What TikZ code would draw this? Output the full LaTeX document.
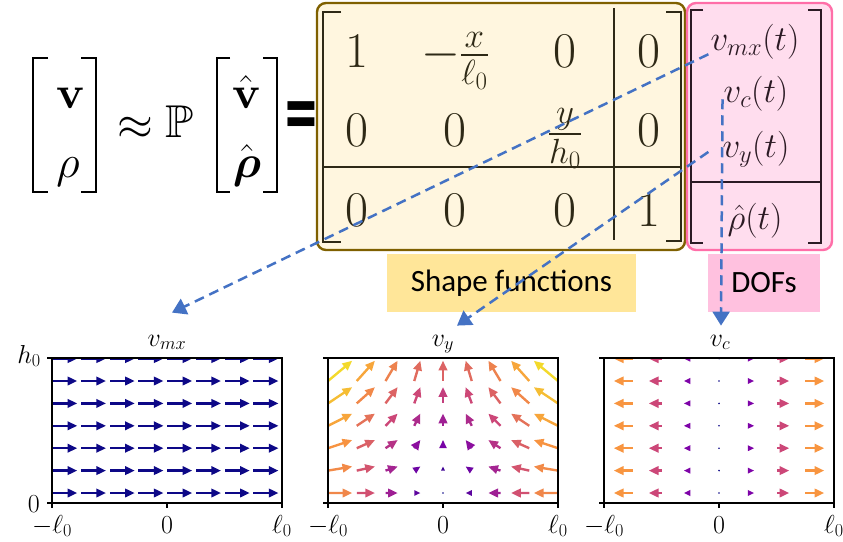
\RequirePackage{fix-cm}
\documentclass[tikz,border=0pt]{standalone}
\usepackage{amsmath}
\usepackage{amssymb}
\usepackage{graphicx}
\usepackage{fontspec}
\setmainfont{lmroman10-regular.otf}[BoldFont=lmroman10-bold.otf,
  ItalicFont=lmroman10-italic.otf, BoldItalicFont=lmroman10-bolditalic.otf]
\newfontfamily\calib{Carlito}
\usetikzlibrary{arrows.meta}
\DeclareFontFamily{U}{msb}{}
\DeclareFontShape{U}{msb}{m}{n}{<-6>msbm5<6-8>msbm7<8->msbm10}{}
\definecolor{mfill}{HTML}{FFF6DF}
\definecolor{mbord}{HTML}{7F6000}
\definecolor{dfill}{HTML}{FFDDEE}
\definecolor{dbord}{HTML}{FF6EA8}
\definecolor{shpc}{HTML}{FFE699}
\definecolor{dofc}{HTML}{FFC1DF}
\definecolor{mtxt}{HTML}{2E2916}
\definecolor{dtxt}{HTML}{2B1A24}
\definecolor{dashc}{HTML}{4472C4}
\definecolor{pl0}{HTML}{0D0887}
\definecolor{pl1}{HTML}{7E03A8}
\definecolor{pl2}{HTML}{CC4778}
\definecolor{pl3}{HTML}{F89540}
\definecolor{pl4}{HTML}{F0F921}
% plasma-like colour for t in [0,1] -> qc
\newcommand\plcol[1]{%
  \pgfmathsetmacro\plt{4*min(max(#1,0),0.999)}%
  \pgfmathtruncatemacro\pls{floor(\plt)}%
  \pgfmathsetmacro\plf{100*(\plt-\pls)}%
  \ifcase\pls \colorlet{qc}{pl1!\plf!pl0}\or \colorlet{qc}{pl2!\plf!pl1}\or
    \colorlet{qc}{pl3!\plf!pl2}\or \colorlet{qc}{pl4!\plf!pl3}\fi}
% quiver arrow: tail (#1,#2), vector (#3,#4)
\newcommand\qarrow[4]{%
  \pgfmathsetmacro\qlen{veclen(#3,#4)}%
  \pgfmathsetmacro\qang{atan2(#4,#3)}%
  \pgfmathsetmacro\qsc{min(\qlen/9.5,1)}%
  \ifdim\qlen pt<0.5pt
    \fill[qc] (#1,#2) circle (0.9);
  \else
    \begin{scope}[shift={(#1,#2)}, rotate=\qang]
      \ifdim\qlen pt>9.5pt \fill[qc] (0,-1.2) rectangle (\qlen-9,1.2);\fi
      \fill[qc] (\qlen-9.5*\qsc,-4.6*\qsc) -- (\qlen,0) -- (\qlen-9.5*\qsc,4.6*\qsc) -- cycle;
    \end{scope}
  \fi}
\newcommand\lbr[4]{\draw[brk] (#1+#4,#2) -| (#1,#3) -- (#1+#4,#3);}
\newcommand\rbr[4]{\draw[brk] (#1-#4,#2) -| (#1,#3) -- (#1-#4,#3);}

\begin{document}
\begin{tikzpicture}[x=1pt, y=-1pt,
  eq/.style={font=\fontsize{46}{50}\selectfont, inner sep=0pt},
  ent/.style={font=\fontsize{50}{55}\selectfont, text=mtxt, anchor=base, inner sep=0pt},
  dent/.style={font=\fontsize{35}{40}\selectfont, text=dtxt, anchor=base, inner sep=2pt},
  brk/.style={line width=2.6pt, line join=miter},
  sep/.style={line width=1.4pt},
  mbox/.style={draw=mbord, fill=mfill, line width=2.4pt, rounded corners=9pt},
  dbox/.style={draw=dbord, fill=dfill, line width=2.4pt, rounded corners=9pt},
  tag/.style={font=\calib\fontsize{31}{36}\selectfont, minimum height=58pt, inner sep=0pt},
  tkl/.style={font=\fontsize{26}{30}\selectfont, anchor=base, inner sep=0pt},
  frame/.style={line width=1.8pt},
  tck/.style={line width=1.2pt},
  dar/.style={draw=dashc, line width=2.5pt, dash pattern=on 10pt off 6pt,
    -{Triangle[length=14pt,width=17pt]}}]
\useasboundingbox (0,0) rectangle (843,541);

% left-hand side
\lbr{33}{58}{192}{15} \rbr{96}{58}{192}{15}
\node[eq, anchor=base] (v) at (70,108) {$\mathbf{v}$};
\node[eq, anchor=base] (rho) at (68,177) {$\rho$};
\node[eq] (apx) at (135,128) {$\approx$};
\node[eq, anchor=base] (P) at (180,137) {$\mathbb{P}$};
\lbr{217}{58}{192}{13} \rbr{277}{58}{192}{14}
\node[eq, anchor=base] (vh) at (246,108) {$\hat{\mathbf{v}}$};
\node[eq, anchor=base] (rhoh) at (247,177) {$\hat{\boldsymbol{\rho}}$};
\node[font=\calib\bfseries\fontsize{64}{70}\selectfont, inner sep=0pt] (eqs) at (301,123) {\scalebox{1}[1.5]{=}};

% shape-function matrix and DOF vector
\node[mbox, minimum width=368pt, minimum height=247pt] (shp) at (501,126.5) {};
\node[dbox, minimum width=145pt, minimum height=247pt] (dof) at (759.5,126.5) {};
\begin{scope}[draw=mtxt]
\lbr{323}{12}{242}{18} \rbr{681}{12}{241}{15}
\draw[sep] (614,8) -- (614,240);
\draw[sep] (323,167) -- (681,167);
\end{scope}
\node[ent] (m11) at (357,67) {$1$};
\node[ent] (m12) at (455,67) {$-\frac{x}{\ell_0}$};
\node[ent] (m13) at (565,67) {$0$};
\node[ent] (m14) at (649,67) {$0$};
\node[ent] (m21) at (357,146) {$0$};
\node[ent] (m22) at (455,146) {$0$};
\node[ent] (m23) at (565,146) {$\frac{y}{h_0}$};
\node[ent] (m24) at (649,146) {$0$};
\node[ent] (m31) at (357,226) {$0$};
\node[ent] (m32) at (455,226) {$0$};
\node[ent] (m33) at (565,226) {$0$};
\node[ent] (m34) at (649,226) {$1$};
\begin{scope}[draw=dtxt]
\lbr{691}{10}{243}{12} \rbr{821}{10}{243}{13}
\draw[sep] (691,182) -- (821,182);
\end{scope}
\node[dent] (dmx) at (755,50) {$v_{mx}(t)$};
\node[dent] (dvc) at (756,102) {$v_c(t)$};
\node[dent] (dvy) at (756,157) {$v_y(t)$};
\node[dent] (drho) at (755,229) {$\hat\rho(t)$};

\node[tag, fill=shpc, minimum width=249pt] (lshp) at (511.5,283) {Shape functions};
\node[tag, fill=dofc, minimum width=112pt] (ldof) at (764,283) {DOFs};

% v_mx field
\begin{scope}[shift={(52,503)}, y=1pt]
  \clip (0,0) rectangle (230,145);
  \colorlet{qc}{pl0}
  \foreach \j in {0,...,6}
    \foreach \i in {0,...,7}
      {\qarrow{\i*28.75}{10+\j*22.4}{25}{0}}
\end{scope}
% v_y field
\begin{scope}[shift={(328,503)}, y=1pt]
  \clip (0,0) rectangle (230,145);
  \foreach \j in {0,...,5}
    \foreach \i in {0,...,8} {
      \pgfmathsetmacro\qu{-6*(\i-4)}
      \pgfmathsetmacro\qv{26*((10+\j*22.4)/145-0.069)}
      \plcol{veclen(\qu,\qv)/34}
      \qarrow{\i*28.75}{10+\j*22.4}{\qu}{\qv}}
\end{scope}
% v_c field
\begin{scope}[shift={(604,503)}, y=1pt]
  \clip (0,0) rectangle (231,145);
  \foreach \j in {0,...,6}
    \foreach \i in {-3,...,3} {
      \plcol{abs(\i)/4}
      \qarrow{115+\i*28.75}{10+\j*22.4}{6.25*\i}{0}}
\end{scope}

% axes
\foreach \ox in {52,328,604} {
  \draw[frame] (\ox,358) rectangle (\ox+230,503);
  \foreach \dx in {0,115,230} \draw[tck] (\ox+\dx,503) -- (\ox+\dx,508);
  \foreach \yy in {358,503} \draw[tck] (\ox,\yy) -- (\ox-5,\yy);
  \node[tkl] at (\ox,533) {$-\ell_0$};
  \node[tkl] at (\ox+115,533) {$0$};
  \node[tkl] at (\ox+230,533) {$\ell_0$};
}
\node[tkl, anchor=base east] (yh) at (41,363) {$h_0$};
\node[tkl, anchor=base east] (y0) at (40,512) {$0$};
\node[tkl] (tmx) at (167,346) {$v_{mx}$};
\node[tkl] (tvy) at (443,346) {$v_y$};
\node[tkl] (tvc) at (720,346) {$v_c$};

% DOF -> field
\draw[dar] ([yshift=-13pt]dmx.west) -- ([xshift=5pt,yshift=22pt]tmx.north);
\draw[dar] ([xshift=-12pt,yshift=-3pt]dvy.west) -- ([xshift=14pt,yshift=9pt]tvy.north);
\draw[dar] ([xshift=1pt,yshift=-6pt]dvc.west) -- ([xshift=1pt,yshift=9pt]tvc.north);
\end{tikzpicture}
\end{document}
